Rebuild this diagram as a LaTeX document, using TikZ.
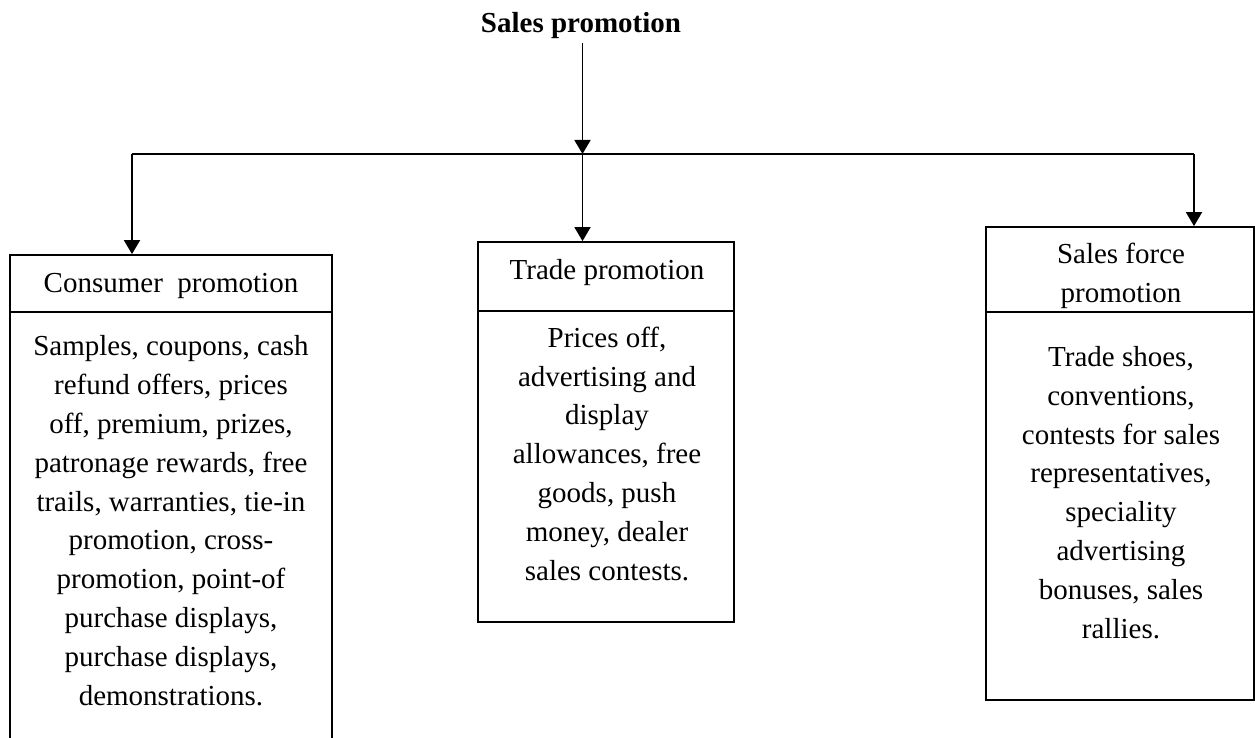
\documentclass[tikz,border=0pt]{standalone}
\usepackage{fontspec}
\setmainfont{Liberation Serif}
\usetikzlibrary{arrows.meta}
\begin{document}
\begin{tikzpicture}[x=1pt,y=-1pt,
  line width=1.8pt,
  arr/.style={-{Triangle[length=14pt,width=16pt]}},
  boxnode/.style 2 args={draw, line width=1.8pt, inner sep=0pt, minimum width=#1, minimum height=#2},
  txt/.style={inner sep=0pt, align=center, font=\fontsize{29}{38.8}\selectfont},
]
% canvas
\clip (0,0) rectangle (1255,738);
\fill[white] (0,0) rectangle (1255,738);

% title
\node[txt, anchor=base, font=\fontsize{29}{38.8}\selectfont\bfseries] (title) at (581,33) {Sales promotion};

% branching points
\coordinate (j)  at (582.5,154);
\coordinate (jl) at (132,154);
\coordinate (jr) at (1194,154);

% boxes: header and body of each category
\node[boxnode={322pt}{57pt}]  (lhead) at (171,283.5) {};
\node[boxnode={322pt}{433pt}] (lbody) at (171,528.5) {};
\node[boxnode={256pt}{69pt}]  (mhead) at (606,276.5) {};
\node[boxnode={256pt}{311pt}] (mbody) at (606,466.5) {};
\node[boxnode={268pt}{85pt}]  (rhead) at (1120,269.5) {};
\node[boxnode={268pt}{388pt}] (rbody) at (1120,506) {};

% connectors
\draw[arr] ([yshift=-3pt]title.south -| j) -- (j);
\draw (jl) -- (jr);
\draw[arr] (jl) -- (jl |- lhead.north);
\draw[arr] (j) -- (j |- mhead.north);
\draw[arr] (jr) -- (jr |- rhead.north);

% header texts (base anchor = baseline of the last line)
\node[txt, anchor=base] (lht) at (171,292) {Consumer\ \ promotion};
\node[txt, anchor=base] (mht) at (607,279) {Trade promotion};
\node[txt, anchor=base] (rht) at (1121,302) {Sales force\\promotion};

% body texts
\node[txt, anchor=base] (lbt) at (171,705) {Samples, coupons, cash\\refund offers, prices\\off, premium, prizes,\\patronage rewards, free\\trails, warranties, tie-in\\promotion, cross-\\promotion, point-of\\purchase displays,\\purchase displays,\\demonstrations.};
\node[txt, anchor=base] (mbt) at (607,580) {Prices off,\\advertising and\\display\\allowances, free\\goods, push\\money, dealer\\sales contests.};
\node[txt, anchor=base] (rbt) at (1121,638) {Trade shoes,\\conventions,\\contests for sales\\representatives,\\speciality\\advertising\\bonuses, sales\\rallies.};
\end{tikzpicture}
\end{document}
